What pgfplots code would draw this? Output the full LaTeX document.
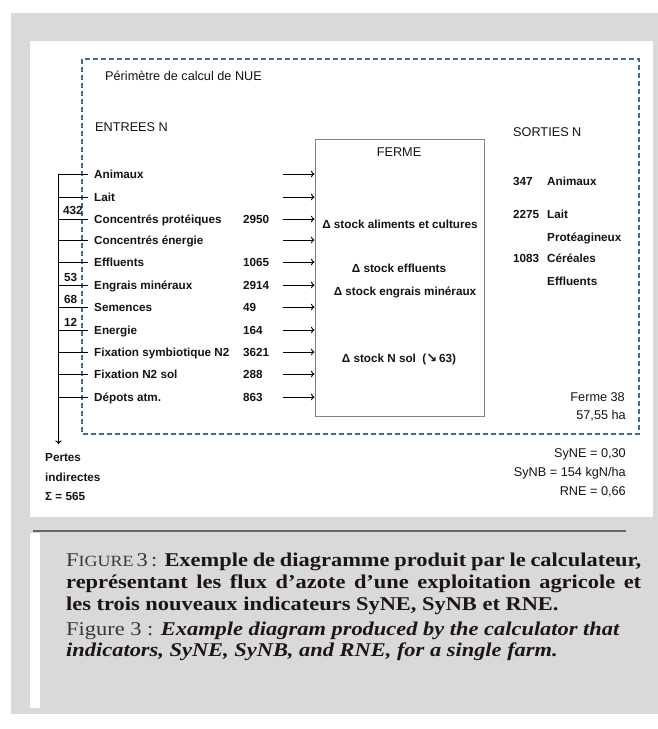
\documentclass[border=0pt]{standalone}
\usepackage{pgfplots}
\pgfplotsset{compat=1.18}
\usetikzlibrary{arrows.meta}
\usepackage{fontspec}
\setmainfont{Liberation Serif}
\newfontfamily\capfont[FakeStretch=1.15]{Liberation Serif}
\newfontfamily\arial{Liberation Sans}
\newfontfamily\dejavu{DejaVu Sans}
\definecolor{bggray}{HTML}{D9D9D9}
\definecolor{dblue}{HTML}{41699A}
\definecolor{txt}{HTML}{141414}
\definecolor{capred}{HTML}{1E1414}
\definecolor{capgray}{HTML}{383838}
\begin{document}
\begin{tikzpicture}[
 lb/.style={font=\arial\fontsize{11.7}{13}\selectfont\bfseries,text=txt,inner sep=0pt,text height=8.3pt,text depth=0pt},
 rg/.style={font=\arial\fontsize{12.7}{14}\selectfont,text=txt,inner sep=0pt,text height=9.1pt,text depth=0pt},
 cp/.style={font=\capfont\fontsize{19.5}{22}\selectfont,inner sep=0pt,anchor=base west},
]
\begin{axis}[width=658pt,height=729pt,scale only axis,xmin=0,xmax=658,ymin=0,ymax=729,
  y dir=reverse,hide axis,clip=false]
% backgrounds
\fill[white] (axis cs:0,0) rectangle (axis cs:658,729);
\fill[bggray] (axis cs:11,13) rectangle (axis cs:658,714);
\fill[white] (axis cs:30,41) rectangle (axis cs:653,517);
\fill[white] (axis cs:30,533) rectangle (axis cs:40,708);
\draw[black!60, line width=1.8pt] (axis cs:33,531) -- (axis cs:626,531);
% perimeter
\draw[dblue, line width=1.4pt, dash pattern=on 5pt off 3pt] (axis cs:82,59) rectangle (axis cs:639,434);
% farm box
\draw[black!50, line width=0.9pt] (axis cs:315,139) rectangle (axis cs:484,416);
% loss collector
\addplot[black, line width=1pt, mark=none, -{To[length=3.5pt,width=6.5pt]}] coordinates {(58.5,174) (58.5,444)};
\pgfplotsinvokeforeach{174,197,219,240,262,285,307,330,352,374,397}{
  \addplot[black, line width=0.9pt, mark=none] coordinates {(58.5,#1) (88,#1)};
  \addplot[black, line width=0.9pt, mark=none, -{To[length=3.5pt,width=6.5pt]}] coordinates {(283,#1) (314.5,#1)};
}
% texts
\node[rg,anchor=west] at (axis cs:105,76) {Périmètre de calcul de NUE};
\node[rg,anchor=west] at (axis cs:95,127) {ENTREES N};
\node[rg,anchor=west] at (axis cs:513,132) {SORTIES N};
\node[rg] at (axis cs:399,152) {FERME};
% inputs
\node[lb,anchor=west] at (axis cs:94,174) {Animaux};
\node[lb,anchor=west] at (axis cs:94,197) {Lait};
\node[lb,anchor=west] at (axis cs:94,219) {Concentrés protéiques};
\node[lb,anchor=west] at (axis cs:94,240) {Concentrés énergie};
\node[lb,anchor=west] at (axis cs:94,262) {Effluents};
\node[lb,anchor=west] at (axis cs:94,285) {Engrais minéraux};
\node[lb,anchor=west] at (axis cs:94,307) {Semences};
\node[lb,anchor=west] at (axis cs:94,330) {Energie};
\node[lb,anchor=west] at (axis cs:94,352) {Fixation symbiotique N2};
\node[lb,anchor=west] at (axis cs:94,374) {Fixation N2 sol};
\node[lb,anchor=west] at (axis cs:94,397) {Dépots atm.};
\node[lb,anchor=west] at (axis cs:243,219) {2950};
\node[lb,anchor=west] at (axis cs:243,262) {1065};
\node[lb,anchor=west] at (axis cs:243,285) {2914};
\node[lb,anchor=west] at (axis cs:243,307) {49};
\node[lb,anchor=west] at (axis cs:243,330) {164};
\node[lb,anchor=west] at (axis cs:243,352) {3621};
\node[lb,anchor=west] at (axis cs:243,374) {288};
\node[lb,anchor=west] at (axis cs:243,397) {863};
% losses
\node[lb,anchor=west] at (axis cs:63,210) {432};
\node[lb,anchor=west] at (axis cs:64,277) {53};
\node[lb,anchor=west] at (axis cs:64,299) {68};
\node[lb,anchor=west] at (axis cs:64,322) {12};
\node[lb,anchor=west] at (axis cs:45,457) {Pertes};
\node[lb,anchor=west] at (axis cs:45,477) {indirectes};
\node[lb,anchor=west] at (axis cs:45,496) {Σ = 565};
% farm stocks
\node[lb] at (axis cs:400,224) {Δ stock aliments et cultures};
\node[lb] at (axis cs:399,268) {Δ stock effluents};
\node[lb] at (axis cs:405,291) {Δ stock engrais minéraux};
\node[lb] at (axis cs:399,358) {Δ stock N sol\ \ ({\dejavu\bfseries\fontsize{13}{13}\selectfont ↘}\,63)};
% outputs
\node[lb,anchor=west] at (axis cs:513,181) {347};
\node[lb,anchor=west] at (axis cs:547,181) {Animaux};
\node[lb,anchor=west] at (axis cs:513,214) {2275};
\node[lb,anchor=west] at (axis cs:547,214) {Lait};
\node[lb,anchor=west] at (axis cs:547,237) {Protéagineux};
\node[lb,anchor=west] at (axis cs:513,258) {1083};
\node[lb,anchor=west] at (axis cs:547,258) {Céréales};
\node[lb,anchor=west] at (axis cs:547,281) {Effluents};
\node[rg,anchor=east] at (axis cs:625,397) {Ferme 38};
\node[rg,anchor=east] at (axis cs:626,415) {57,55 ha};
\node[rg,anchor=east] at (axis cs:626,453) {SyNE = 0,30};
\node[rg,anchor=east] at (axis cs:626,472) {SyNB = 154 kgN/ha};
\node[rg,anchor=east] at (axis cs:626,491) {RNE = 0,66};
% caption
\node[cp] at (axis cs:66,566) {\makebox[575pt][s]{\color{capgray}F{\fontsize{15.6}{18}\selectfont IGURE}\,3\,: \color{capred}\bfseries Exemple de diagramme produit par le calculateur,}};
\node[cp,text=capred] at (axis cs:66,588) {\makebox[575pt][s]{\bfseries représentant les flux d’azote d’une exploitation agricole et}};
\node[cp,text=capred] at (axis cs:66,610) {\bfseries les trois nouveaux indicateurs SyNE, SyNB et RNE.};
\node[cp] at (axis cs:66,635) {\color{capgray}Figure 3 : \color{capred}\bfseries\itshape Example diagram produced by the calculator that};
\node[cp,text=capred] at (axis cs:66,656) {\bfseries\itshape indicators, SyNE, SyNB, and RNE, for a single farm.};
\coordinate (BL) at (axis cs:0,729);
\coordinate (TR) at (axis cs:658,0);
\end{axis}
\pgfresetboundingbox
\path[use as bounding box] (BL) rectangle (TR);
\end{tikzpicture}
\end{document}
